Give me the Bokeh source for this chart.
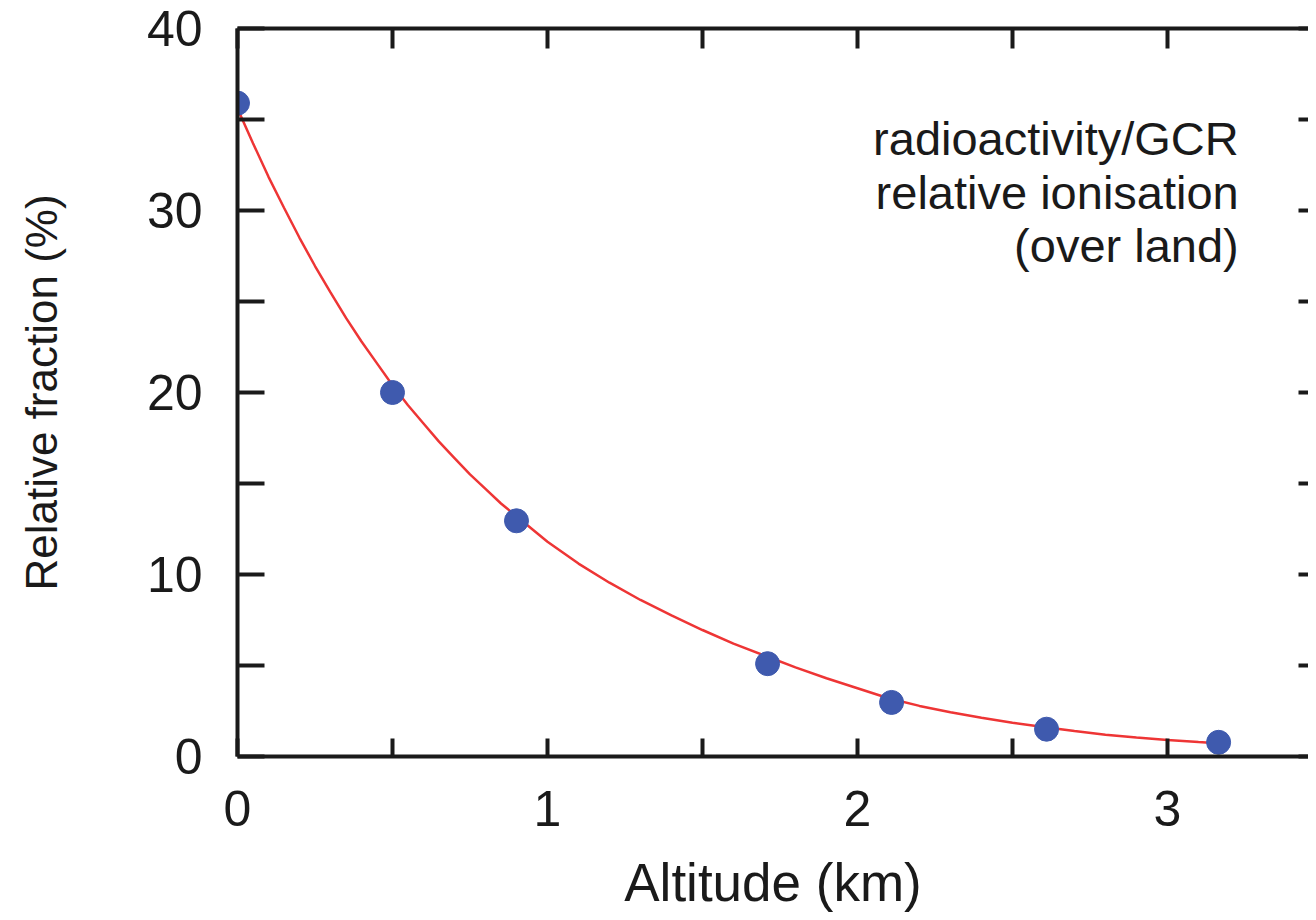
from bokeh.plotting import figure
from bokeh.models import Range1d, LinearAxis, FixedTicker, Label
from bokeh.embed import file_html
from bokeh.resources import INLINE

# ---- data ----
altitude_km = [0.0, 0.5, 0.9, 1.71, 2.11, 2.61, 3.165]
fraction_pct = [35.9, 20.0, 12.95, 5.1, 2.97, 1.5, 0.78]

fit_altitude = [0.0, 0.05, 0.10, 0.15, 0.20, 0.25, 0.30, 0.35, 0.40, 0.45, 0.50,
                0.55, 0.60, 0.65, 0.70, 0.75, 0.80, 0.85, 0.90, 0.95, 1.00,
                1.1, 1.2, 1.3, 1.4, 1.5, 1.6, 1.7, 1.8, 1.9, 2.0,
                2.1, 2.2, 2.3, 2.4, 2.5, 2.6, 2.7, 2.8, 2.9, 3.0, 3.1, 3.16]
fit_fraction = [35.6, 33.7, 31.85, 30.15, 28.5, 26.95, 25.5, 24.1, 22.8, 21.6, 20.4,
                19.3, 18.3, 17.3, 16.4, 15.5, 14.7, 13.9, 13.2, 12.5, 11.8,
                10.6, 9.55, 8.6, 7.75, 6.95, 6.2, 5.55, 4.9, 4.3, 3.75,
                3.2, 2.78, 2.43, 2.13, 1.86, 1.62, 1.4, 1.2, 1.04, 0.9, 0.79, 0.73]

x_major = [0, 1, 2, 3]
x_minor = [0.5, 1.5, 2.5]
x_all = [0, 0.5, 1, 1.5, 2, 2.5, 3]
y_major = [0, 10, 20, 30, 40]
y_minor = [5, 15, 25, 35]
y_all = [0, 5, 10, 15, 20, 25, 30, 35, 40]

x_title = "Altitude (km)"
y_title = "Relative fraction (%)"
note_text = "radioactivity/GCR\nrelative ionisation\n(over land)"

FONT = "Liberation Sans"
INK = "#1a1a1a"

p = figure(width=1308, height=914, output_backend="svg", toolbar_location=None,
           x_range=Range1d(0, 3.455), y_range=Range1d(0, 40),
           x_axis_location=None, y_axis_location=None,
           min_border_left=237, min_border_top=28, min_border_right=0, min_border_bottom=0)
p.grid.visible = False
p.outline_line_color = None
p.background_fill_color = "white"
p.border_fill_color = "white"

def style(ax, tick_len):
    ax.axis_line_color = INK
    ax.axis_line_width = 4
    ax.major_tick_line_width = 4
    ax.major_tick_line_color = INK
    ax.major_tick_in = tick_len
    ax.major_tick_out = 0
    ax.minor_tick_line_width = 4
    ax.minor_tick_line_color = INK
    ax.minor_tick_in = tick_len
    ax.minor_tick_out = 0
    ax.major_label_text_font = FONT
    ax.major_label_text_color = INK
    ax.axis_label_text_font = FONT
    ax.axis_label_text_color = INK
    ax.axis_label_text_font_style = "normal"

# bottom axis
xb = LinearAxis(ticker=FixedTicker(ticks=x_major, minor_ticks=x_minor), axis_label=x_title)
style(xb, 18)
xb.major_label_text_font_size = "50px"
xb.major_label_standoff = 34
xb.axis_label_text_font_size = "53px"
xb.axis_label_standoff = 24
p.add_layout(xb, "below")

# top axis (mirror ticks, no labels)
xt = LinearAxis(ticker=FixedTicker(ticks=[], minor_ticks=x_all))
style(xt, 20)
xt.major_label_standoff = 0
p.add_layout(xt, "above")

# left axis
yl = LinearAxis(ticker=FixedTicker(ticks=y_major, minor_ticks=y_minor), axis_label=y_title)
style(yl, 27)
yl.major_label_text_font_size = "50px"
yl.major_label_standoff = 35
yl.axis_label_text_font_size = "44px"
yl.axis_label_standoff = 78
p.add_layout(yl, "left")

# right axis (mirror ticks only, border line outside view)
yr = LinearAxis(ticker=FixedTicker(ticks=[], minor_ticks=y_all))
style(yr, 10)
yr.axis_line_color = None
yr.major_label_standoff = 0
p.add_layout(yr, "right")

# fitted curve and data points
p.line(fit_altitude, fit_fraction, line_color="#ee3535", line_width=2.5)
p.scatter(altitude_km, fraction_pct, size=24, marker="circle",
          fill_color="#3f5aae", line_color="#3f5aae")

note = Label(x=3.23, y=35.4, text=note_text, text_align="right", text_baseline="top",
             text_font=FONT, text_font_size="47px", text_color=INK, text_line_height=1.01)
p.add_layout(note)

open("out.html", "w").write(file_html(p, INLINE))
